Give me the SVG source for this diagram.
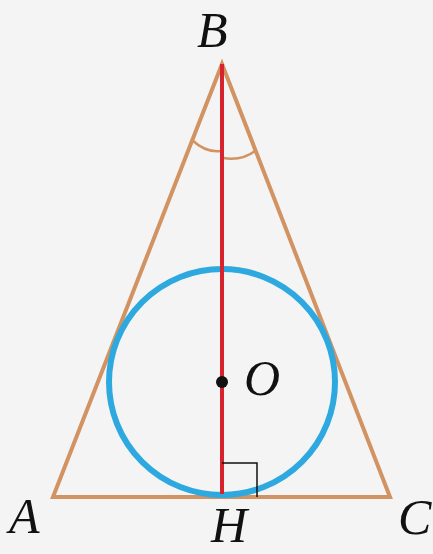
<svg xmlns="http://www.w3.org/2000/svg" width="433" height="554" viewBox="0 0 433 554">
<style>
.tri{fill:none;stroke:#D29363;stroke-width:4;stroke-linejoin:miter}
.arc{fill:none;stroke:#D29363;stroke-width:2.5}
.lbl{font-family:"Liberation Serif",serif;font-style:italic;font-size:50px;fill:#111}
</style>
<rect width="433" height="554" fill="#F4F4F4"/>
<g id="triangle">
<polygon class="tri" points="53,497 222,64 390,497"/>
<path class="arc" d="M192,140 Q206,153 221,151"/>
<path class="arc" d="M223,158 Q242,161 255,151"/>
</g>
<g id="circle">
<circle cx="222" cy="382" r="113" fill="none" stroke="#2EA9DF" stroke-width="6"/>
</g>
<g id="connectors">
<line x1="222" y1="64" x2="222" y2="494" stroke="#D7232E" stroke-width="4"/>
<polyline points="222,463 257,463 257,497" fill="none" stroke="#111" stroke-width="1.5"/>
</g>
<g id="O">
<circle cx="222" cy="382" r="6" fill="#111"/>
<text class="lbl" x="244" y="395">O</text>
</g>
<g id="labels">
<text class="lbl" x="197" y="47">B</text>
<text class="lbl" x="9" y="533">A</text>
<text class="lbl" x="398" y="534">C</text>
<text class="lbl" x="211" y="542">H</text>
</g>
</svg>
